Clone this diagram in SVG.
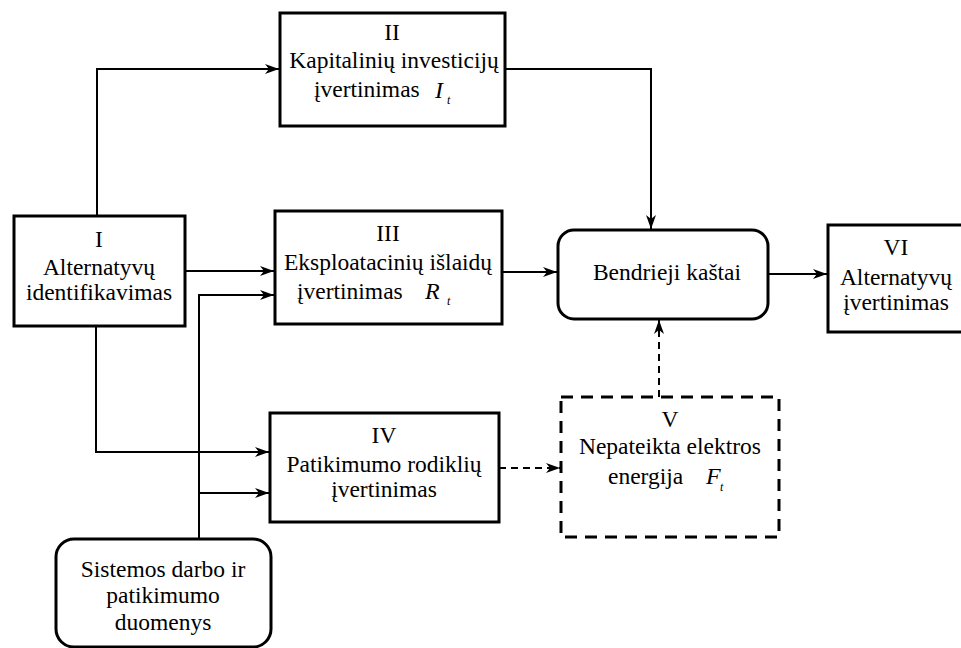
<svg xmlns="http://www.w3.org/2000/svg" width="961" height="648" viewBox="0 0 961 648" font-family="'Liberation Serif', 'Times New Roman', 'DejaVu Serif', serif">
<style>
  .box { fill: #fff; stroke: #000; stroke-width: 3; }
  .dbox { fill: #fff; stroke: #000; stroke-width: 3; stroke-dasharray: 12 8; }
  .ln { fill: none; stroke: #000; stroke-width: 2; }
  .dln { fill: none; stroke: #000; stroke-width: 2; stroke-dasharray: 7 5; }
  text { font-family: "Liberation Serif", "Times New Roman", serif; font-size: 23.5px; fill: #000; }
  .c { text-anchor: middle; }
  .it { font-style: italic; font-size: 24px; }
  .sub { font-style: italic; font-size: 12px; }
</style>
<defs>
  <marker id="ah" viewBox="0 0 14 10" refX="14" refY="5" markerWidth="14" markerHeight="10" markerUnits="userSpaceOnUse" orient="auto">
    <path d="M0,0 L14,5 L0,10 L4,5 Z" fill="#000"/>
  </marker>
</defs>
<rect width="961" height="648" fill="#fff"/>
<g id="connectors">
  <path class="ln" d="M97,216 V69 H279" marker-end="url(#ah)"/>
  <path class="ln" d="M505,69 H651 V229" marker-end="url(#ah)"/>
  <path class="ln" d="M185,271 H274" marker-end="url(#ah)"/>
  <path class="ln" d="M199,538 V295 H274" marker-end="url(#ah)"/>
  <path class="ln" d="M96,326 V452 H269" marker-end="url(#ah)"/>
  <path class="ln" d="M199,493 H269" marker-end="url(#ah)"/>
  <path class="ln" d="M502,272 H557" marker-end="url(#ah)"/>
  <path class="ln" d="M768,274 H827" marker-end="url(#ah)"/>
  <path class="dln" d="M499,468 H560" marker-end="url(#ah)"/>
  <path class="dln" d="M659,397 V320" marker-end="url(#ah)"/>
</g>
<g id="node-II">
  <rect class="box" x="280" y="13" width="225" height="113"/>
  <text class="c" x="392" y="40">II</text>
  <text class="c" x="394" y="68">Kapitalinių investicijų</text>
  <text x="314" y="97">įvertinimas</text>
  <text class="it" x="435" y="98">I</text>
  <text class="sub" x="447" y="104">t</text>
</g>
<g id="node-I">
  <rect class="box" x="14" y="216" width="171" height="110"/>
  <text class="c" x="99" y="247">I</text>
  <text class="c" x="99" y="275">Alternatyvų</text>
  <text class="c" x="99" y="300">identifikavimas</text>
</g>
<g id="node-III">
  <rect class="box" x="275" y="211" width="227" height="113"/>
  <text class="c" x="388" y="241">III</text>
  <text class="c" x="388" y="270">Eksploatacinių išlaidų</text>
  <text x="297" y="299">įvertinimas</text>
  <text class="it" x="425" y="299">R</text>
  <text class="sub" x="447" y="305">t</text>
</g>
<g id="node-total">
  <rect class="box" x="558" y="230" width="210" height="89" rx="16" ry="16"/>
  <text class="c" x="667" y="280">Bendrieji kaštai</text>
</g>
<g id="node-VI">
  <rect class="box" x="828" y="225" width="136" height="107"/>
  <text class="c" x="896" y="255">VI</text>
  <text class="c" x="896" y="285">Alternatyvų</text>
  <text class="c" x="896" y="310">įvertinimas</text>
</g>
<g id="node-IV">
  <rect class="box" x="270" y="413" width="229" height="109"/>
  <text class="c" x="384" y="443">IV</text>
  <text class="c" x="384" y="472">Patikimumo rodiklių</text>
  <text class="c" x="384" y="497">įvertinimas</text>
</g>
<g id="node-V">
  <rect class="dbox" x="561" y="397" width="218" height="140"/>
  <text class="c" x="670" y="427">V</text>
  <text class="c" x="670" y="454">Nepateikta elektros</text>
  <text x="608" y="484">energija</text>
  <text class="it" x="706" y="484">F</text>
  <text class="sub" x="720" y="491">t</text>
</g>
<g id="node-data">
  <rect class="box" x="56" y="539" width="215" height="108" rx="18" ry="18"/>
  <text class="c" x="163" y="577">Sistemos darbo ir</text>
  <text class="c" x="163" y="603">patikimumo</text>
  <text class="c" x="163" y="630">duomenys</text>
</g>
</svg>
